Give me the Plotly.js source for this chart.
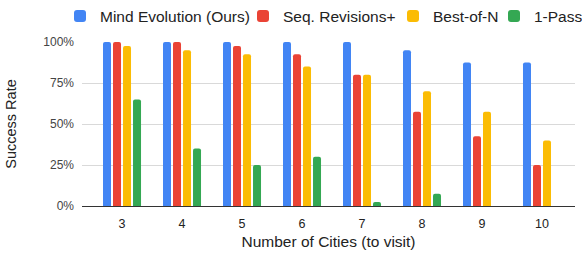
<!DOCTYPE html>
<html>
<head>
<meta charset="utf-8">
<script src="https://cdn.plot.ly/plotly-3.0.1.min.js"></script>
<style>html,body{margin:0;padding:0;background:#fff}#chart{width:582px;height:253px}</style>
</head>
<body>
<div id="chart"></div>
<script>
var cities = ["3", "4", "5", "6", "7", "8", "9", "10"];
var mindEvolution = [100, 100, 100, 100, 100, 95, 87.5, 87.5];
var seqRevisions = [100, 100, 97.5, 92.5, 80, 57.5, 42.5, 25];
var bestOfN = [97.5, 95, 92.5, 85, 80, 70, 57.5, 40];
var onePass = [65, 35, 25, 30, 2.5, 7.5, 0, 0];
var seriesNames = ["Mind Evolution (Ours)", "Seq. Revisions+", "Best-of-N", "1-Pass"];
var colors = ["#4285F4", "#EA4335", "#FBBC04", "#34A853"];
var yTickVals = [0, 25, 50, 75, 100];
var yTickText = ["0%", "25%", "50%", "75%", "100%"];

var legendIds = ["legend", "legend2", "legend3", "legend4"];
var legendLeftPx = [60, 243, 393, 494];

var allSeries = [mindEvolution, seqRevisions, bestOfN, onePass];
var traces = allSeries.map(function (vals, i) {
  return {
    type: "bar",
    x: cities,
    y: vals,
    name: seriesNames[i],
    legend: legendIds[i],
    marker: {color: colors[i], cornerradius: 2},
    hoverinfo: "none"
  };
});

var font = "Liberation Sans, Arial, sans-serif";
var W = 582, H = 253;
var layout = {
  width: W, height: H,
  margin: {l: 82, r: 7, t: 42, b: 47, pad: 0, autoexpand: false},
  paper_bgcolor: "#fff", plot_bgcolor: "#fff",
  barmode: "group",
  bargap: 0.333,
  bargroupgap: 0.2,
  font: {family: font, color: "#222", size: 12},
  showlegend: true,
  xaxis: {
    type: "category",
    range: [-0.667, 7.55],
    showgrid: false,
    zeroline: false,
    showline: false,
    ticks: "",
    ticklabelstandoff: 8,
    tickfont: {family: font, size: 12.5, color: "#222"},
    title: {text: "Number of Cities (to visit)", font: {family: font, size: 15.5, color: "#222"}, standoff: 6}
  },
  yaxis: {
    range: [0, 100],
    tickvals: yTickVals,
    ticktext: yTickText,
    showgrid: true,
    gridcolor: "#d9d9d9",
    gridwidth: 1,
    zeroline: true,
    zerolinecolor: "#333",
    zerolinewidth: 1,
    ticks: "",
    ticklabelstandoff: 7,
    tickfont: {family: font, size: 12, color: "#444"},
    title: {text: "Success Rate", font: {family: font, size: 14.5, color: "#222"}, standoff: 23}
  }
};
legendIds.forEach(function (id, i) {
  layout[id] = {
    orientation: "h",
    xref: "container", x: legendLeftPx[i] / W, xanchor: "left",
    yref: "container", y: 1 - 16.5 / H, yanchor: "middle",
    font: {family: font, size: 15.5, color: "#222"},
    bgcolor: "rgba(0,0,0,0)",
    borderwidth: 0
  };
});
Plotly.newPlot("chart", traces, layout, {displayModeBar: false, staticPlot: true});
</script>
</body>
</html>
